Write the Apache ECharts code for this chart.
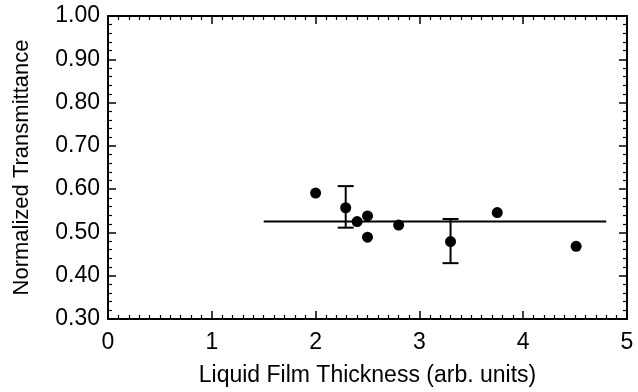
<!DOCTYPE html>
<html>
<head>
<meta charset="utf-8">
<script src="https://cdn.jsdelivr.net/npm/echarts@6/dist/echarts.min.js"></script>
<style>
  html, body { margin: 0; padding: 0; background: #fff; }
  #chart { width: 638px; height: 392px; }
</style>
</head>
<body>
<div id="chart"></div>
<script>
// Measured transmittance vs. liquid film thickness
const thickness = [2.0, 2.29, 2.40, 2.50, 2.50, 2.80, 3.30, 3.75, 4.51];
const transmittance = [0.591, 0.557, 0.525, 0.538, 0.489, 0.517, 0.479, 0.546, 0.468];

// Error bars on two representative points
const errX = [2.29, 3.30];
const errLow = [0.511, 0.429];
const errHigh = [0.607, 0.531];

// Mean level (horizontal fit line)
const fitX = [1.5, 4.8];
const fitY = [0.525, 0.525];

// Axis tick values
const xTicks = [0, 1, 2, 3, 4, 5];
const yTicks = [0.30, 0.40, 0.50, 0.60, 0.70, 0.80, 0.90, 1.00];

const FONT = 'Liberation Sans';
const INK = '#000';

const chart = echarts.init(document.getElementById('chart'), null, { renderer: 'canvas' });

const frameAxis = {
  axisLine: { show: true, onZero: false, lineStyle: { color: INK, width: 2 } },
  axisTick: { show: true, inside: true, length: 8, lineStyle: { color: INK, width: 1.5 } },
  splitLine: { show: false }
};
const xMinor = { show: true, splitNumber: 10, length: 4, lineStyle: { color: INK, width: 1.2 } };
const yMinor = { show: true, splitNumber: 5, length: 4, lineStyle: { color: INK, width: 1.2 } };

const option = {
  backgroundColor: '#fff',
  animation: false,
  grid: { left: 108, right: 11, top: 16, bottom: 71 },
  xAxis: [
    Object.assign({
      type: 'value', min: xTicks[0], max: xTicks[xTicks.length - 1], interval: 1,
      name: 'Liquid Film Thickness (arb. units)', nameLocation: 'middle', nameGap: 45,
      nameTextStyle: { fontFamily: FONT, fontSize: 23, color: INK },
      axisLabel: { fontFamily: FONT, fontSize: 23, color: INK, margin: 12 },
      minorTick: xMinor
    }, frameAxis),
    Object.assign({
      type: 'value', position: 'top', min: xTicks[0], max: xTicks[xTicks.length - 1], interval: 1,
      axisLabel: { show: false },
      minorTick: xMinor
    }, frameAxis)
  ],
  yAxis: [
    Object.assign({
      type: 'value', min: yTicks[0], max: yTicks[yTicks.length - 1], interval: 0.1,
      name: 'Normalized Transmittance', nameLocation: 'middle', nameGap: 75, nameRotate: 90,
      nameTextStyle: { fontFamily: FONT, fontSize: 22, color: INK },
      axisLabel: { fontFamily: FONT, fontSize: 23, color: INK, margin: 8,
        formatter: v => v.toFixed(2) },
      minorTick: yMinor
    }, frameAxis),
    Object.assign({
      type: 'value', position: 'right', min: yTicks[0], max: yTicks[yTicks.length - 1], interval: 0.1,
      axisLabel: { show: false },
      minorTick: yMinor
    }, frameAxis)
  ],
  series: [
    {
      type: 'line',
      data: fitX.map((x, i) => [x, fitY[i]]),
      symbol: 'none',
      lineStyle: { color: INK, width: 2 },
      z: 2
    },
    {
      type: 'custom',
      data: errX.map((x, i) => [x, errLow[i], errHigh[i]]),
      renderItem: (params, api) => {
        const lo = api.coord([api.value(0), api.value(1)]);
        const hi = api.coord([api.value(0), api.value(2)]);
        const half = 8;
        const style = { stroke: INK, lineWidth: 2 };
        return {
          type: 'group',
          children: [
            { type: 'line', shape: { x1: lo[0], y1: lo[1], x2: hi[0], y2: hi[1] }, style },
            { type: 'line', shape: { x1: lo[0] - half, y1: lo[1], x2: lo[0] + half, y2: lo[1] }, style },
            { type: 'line', shape: { x1: hi[0] - half, y1: hi[1], x2: hi[0] + half, y2: hi[1] }, style }
          ]
        };
      },
      z: 3
    },
    {
      type: 'scatter',
      data: thickness.map((x, i) => [x, transmittance[i]]),
      symbol: 'circle',
      symbolSize: 11,
      itemStyle: { color: INK, opacity: 1 },
      z: 4
    }
  ]
};

chart.setOption(option);
</script>
</body>
</html>
